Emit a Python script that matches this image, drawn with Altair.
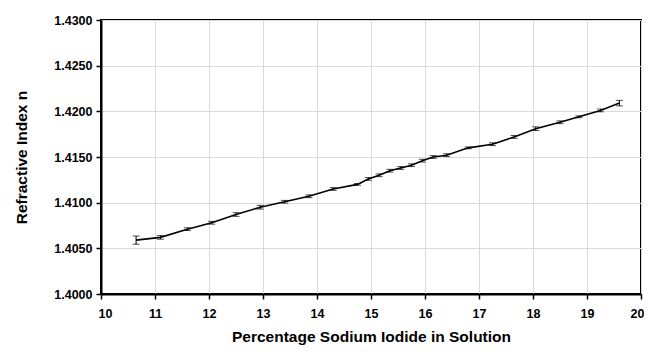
import altair as alt
import pandas as pd

pct = [10.65, 11.1, 11.6, 12.05, 12.5, 12.95, 13.4, 13.85, 14.3, 14.75, 14.95, 15.15,
       15.35, 15.55, 15.75, 15.95, 16.15, 16.4, 16.8, 17.25, 17.65, 18.05, 18.5, 18.85,
       19.25, 19.6]
n_val = [1.4059, 1.4062, 1.4071, 1.4078, 1.4087, 1.4095, 1.4101, 1.4107, 1.4115, 1.4120,
         1.4126, 1.4130, 1.4135, 1.4138, 1.4141, 1.4146, 1.4150, 1.4152, 1.4160, 1.4164,
         1.4172, 1.4181, 1.4188, 1.4194, 1.4201, 1.4209]
err = [0.00045, 0.0002, 0.00015, 0.00015, 0.0002, 0.0002, 0.00015, 0.00015, 0.00015, 0.0001,
       0.00015, 0.00015, 0.00015, 0.00015, 0.00015, 0.00015, 0.00015, 0.00015, 0.0001, 0.00015,
       0.00015, 0.0002, 0.00015, 0.0001, 0.00015, 0.0003]

df = pd.DataFrame({"x": pct, "y": n_val, "e": err})
df["lo"] = df["y"] - df["e"]
df["hi"] = df["y"] + df["e"]

FONT = "Liberation Sans"

xs = alt.Scale(domain=[10, 20], nice=False, zero=False)
ys = alt.Scale(domain=[1.40, 1.43], nice=False, zero=False)

base = alt.Chart(df)

line = base.mark_line(color="black", strokeWidth=1.6).encode(
    x=alt.X("x:Q", scale=xs,
            axis=alt.Axis(title="Percentage Sodium Iodide in Solution", values=list(range(10, 21)),
                          format="d", grid=True)),
    y=alt.Y("y:Q", scale=ys,
            axis=alt.Axis(title="Refractive Index  n", values=[1.40, 1.405, 1.41, 1.415, 1.42, 1.425, 1.43],
                          format=".4f", grid=True)),
)

rule = base.mark_rule(color="black", strokeWidth=1).encode(
    x="x:Q", y="lo:Q", y2="hi:Q"
)
cap_lo = base.mark_tick(color="black", size=7, thickness=1, orient="horizontal").encode(
    x="x:Q", y="lo:Q"
)
cap_hi = base.mark_tick(color="black", size=7, thickness=1, orient="horizontal").encode(
    x="x:Q", y="hi:Q"
)

chart = alt.layer(line, rule, cap_lo, cap_hi).properties(
    width=540, height=274,
    autosize=alt.AutoSizeParams(type="none"),
    padding={"left": 93, "top": 12, "right": 3, "bottom": 51},
).configure_view(
    stroke="black", strokeWidth=2
).configure_axis(
    labelFont=FONT, titleFont=FONT, labelFontWeight="bold", titleFontWeight="bold",
    labelFontSize=12.5, titleFontSize=15.5, labelColor="black", titleColor="black",
    domainColor="black", domainWidth=2, tickColor="black", tickWidth=1.5, tickSize=5,
    gridColor="#d9d9d9", gridWidth=1, labelPadding=4,
).configure_axisX(
    titlePadding=10, labelPadding=8, tickSize=5, labelFlush=True, labelFlushOffset=3
).configure_axisY(
    titlePadding=24, labelPadding=4, labelFlush=False
)

chart.save("out.html", embed_options={"renderer": "svg", "actions": False})
